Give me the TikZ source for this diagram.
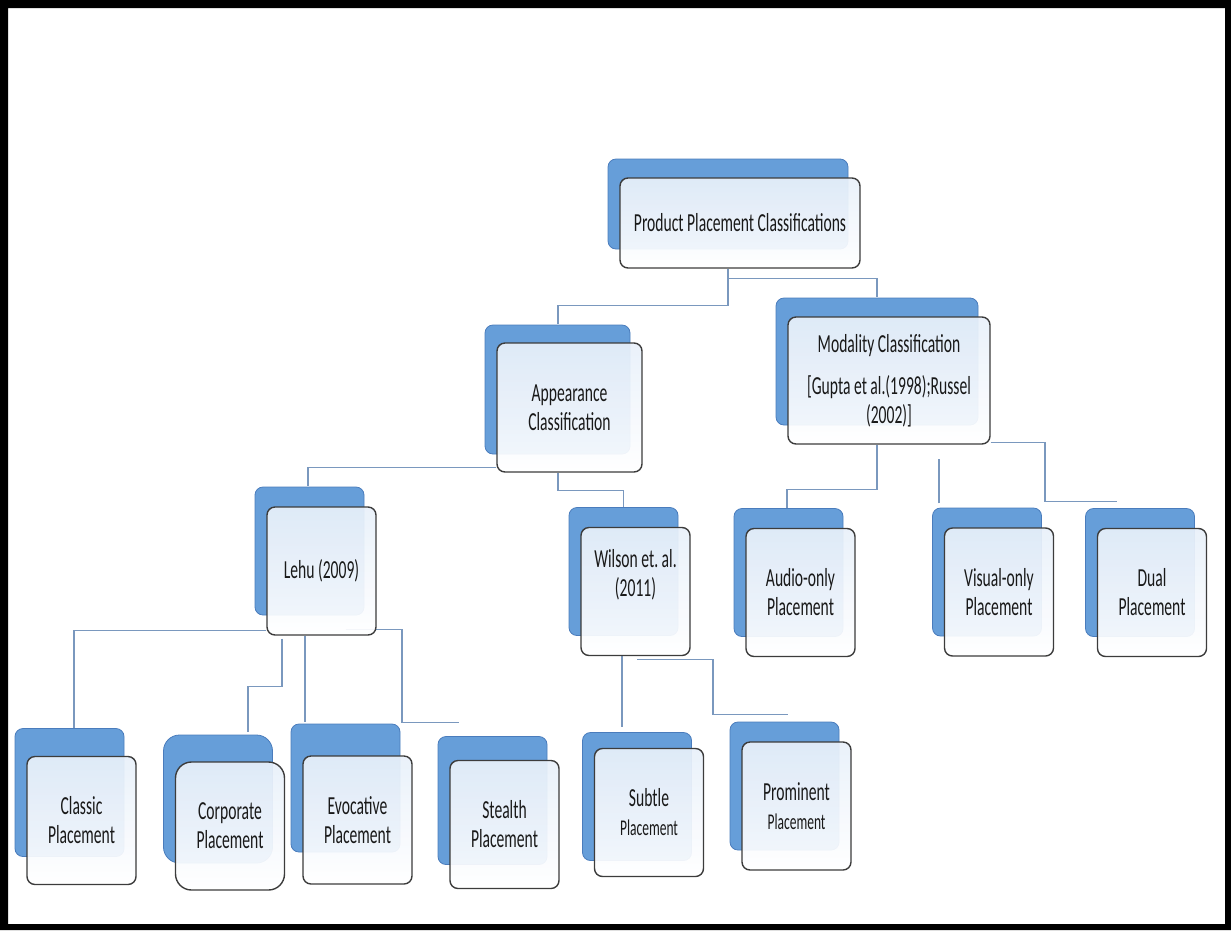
\documentclass[tikz,border=0pt]{standalone}
\usepackage{fontspec}
\setmainfont{Carlito}[FakeStretch=0.6]
\usetikzlibrary{shadows,backgrounds}
\definecolor{backblue}{RGB}{102,158,217}
\definecolor{backedge}{RGB}{74,124,188}
\definecolor{cardfill}{RGB}{232,240,250}
\definecolor{cardedge}{RGB}{60,60,60}
\definecolor{linkblue}{RGB}{122,152,190}
\newcommand{\cardfont}{\fontsize{26}{29}\selectfont}
\newcommand{\smallcard}{\fontsize{22.5}{26}\selectfont}
\frenchspacing

\begin{document}
\begin{tikzpicture}[x=1pt,y=-1pt,
    card/.style={draw=cardedge, line width=1.4pt, rounded corners=8pt,
        top color=cardfill, bottom color=white, fill opacity=0.93, text opacity=1, text=black!90,
        align=center, font=\cardfont, inner sep=2pt,
        minimum width=109pt, minimum height=128pt,
        general shadow={shadow xshift=-12pt, shadow yshift=#1, fill=backblue,
            fill opacity=1, draw=backedge, line width=0.8pt}},
    card/.default=20pt,
    link/.style={draw=linkblue, line width=1.3pt}]
    \fill[black, even odd rule] (0,0) rectangle (1231,930) (8,8) rectangle (1225,924);

    \node[card=19pt, minimum width=240pt, minimum height=90pt] (root) at (740,223) {Product Placement Classifications};
    \node[card=18pt, minimum width=145pt, minimum height=129pt] (app) at (569.5,407.5) {Appearance\\Classification};
    \node[card=19pt, minimum width=202pt, minimum height=127pt] (mod) at (889,380.5) {Modality Classification\\[13pt][Gupta et al.(1998);Russel\\(2002)]};

    \node[card] (lehu) at (321.5,571) {Lehu (2009)};
    \node[card, text depth=37pt] (wil) at (635.5,591.5) {Wilson et. al.\\(2011)};
    \node[card] (audio) at (800.5,592.5) {Audio-only\\Placement};
    \node[card] (visual) at (999,592) {Visual-only\\Placement};
    \node[card] (dual) at (1152,592.5) {Dual\\Placement};

    \node[card=28pt] (classic) at (81.5,820.5) {Classic\\Placement};
    \node[card=27pt, rounded corners=16pt] (corp) at (230,826) {Corporate\\Placement};
    \node[card=32pt] (evo) at (357.5,820) {Evocative\\Placement};
    \node[card=24pt] (stealth) at (504.5,824.5) {Stealth\\Placement};
    \node[card=16pt] (subtle) at (649,812.5) {Subtle\\{\smallcard Placement}};
    \node[card] (prom) at (796.5,806) {Prominent\\{\smallcard Placement}};

    \begin{scope}[on background layer]
    \draw[link] ([xshift=-12pt]root.south) -- ++(0,37) -| ([shift={(-11.5,-18)}]app.north);
    \draw[link] ([xshift=-12pt]root.south) ++(0,10) -| ([shift={(-12,-19)}]mod.north);
    \draw[link] ([yshift=5.5pt]app.south west) -| ([shift={(-13.5,-20)}]lehu.north);
    \draw[link] ([xshift=-11.5pt]app.south) -- ++(0,18) -| ([shift={(-12,-20)}]wil.north);
    \draw[link] ([xshift=-12pt]mod.south) -- ++(0,45) -| ([shift={(-13.5,-20)}]audio.north);
    \draw[link] ([shift={(-60,-24)}]visual.north) -- ++(0,-44);
    \draw[link] ([yshift=2pt]mod.south east) -| ([shift={(-107,-26)}]dual.north) -- ++(72,0);
    \draw[link] ([yshift=5pt]lehu.south west) -| ([shift={(-7.5,-28)}]classic.north);
    \draw[link] ([shift={(-39.5,3)}]lehu.south) -- ++(0,48) -| ([shift={(18,-29)}]corp.north);
    \draw[link] ([xshift=-16.5pt]lehu.south) -- ([shift={(-52.5,-33)}]evo.north);
    \draw[link] ([shift={(-31,-6)}]lehu.south east) -| ([shift={(-102.5,-37)}]stealth.north) -- ++(57,0);
    \draw[link] ([xshift=-13.5pt]wil.south) -- ([shift={(-27,-21)}]subtle.north);
    \draw[link] ([shift={(1.5,3)}]wil.south) -| ([shift={(-83.5,-27)}]prom.north) -- ++(75,0);
    \end{scope}
\end{tikzpicture}
\end{document}
